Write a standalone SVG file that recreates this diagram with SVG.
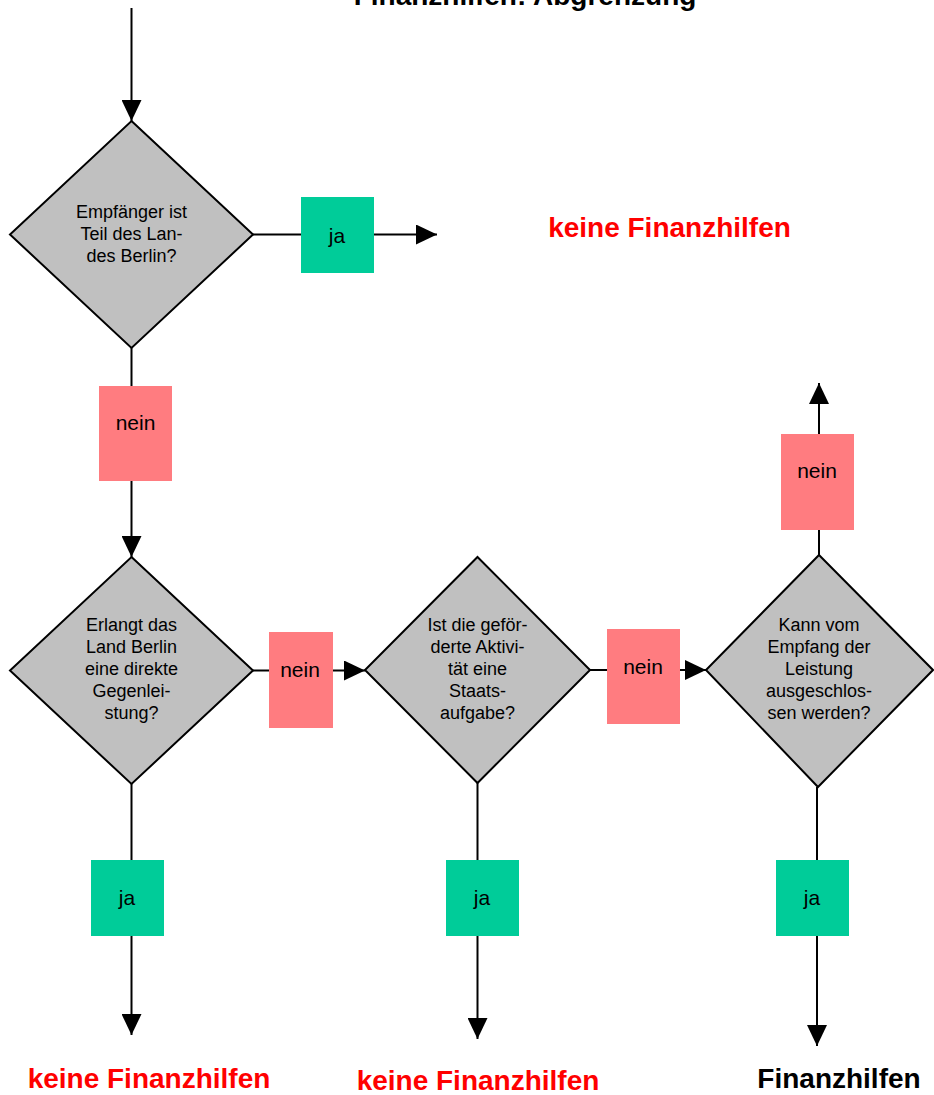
<svg xmlns="http://www.w3.org/2000/svg" width="934" height="1095" viewBox="0 0 934 1095">
<style>
  .dia { fill: #c0c0c0; stroke: #000; stroke-width: 2; stroke-linejoin: miter; }
  .ja { fill: #00cc99; }
  .nein { fill: #ff7c80; }
  .conn { stroke: #000; stroke-width: 2; fill: none; marker-end: url(#ah); }
  .q { font-family: "Liberation Sans", Arial, sans-serif; font-size: 18px; fill: #000; text-anchor: middle; }
  .lbl { font-family: "Liberation Sans", Arial, sans-serif; font-size: 21px; fill: #000; text-anchor: middle; }
  .res { font-family: "Liberation Sans", Arial, sans-serif; font-size: 28px; font-weight: bold; text-anchor: middle; }
  .red { fill: #ff0000; }
  .blk { fill: #000; }
</style>
<defs>
  <marker id="ah" viewBox="0 0 21 20" refX="21" refY="10" markerWidth="21" markerHeight="20" orient="auto" markerUnits="userSpaceOnUse">
    <path d="M0,0 L21,10 L0,20 z" fill="#000"/>
  </marker>
</defs>
<rect width="934" height="1095" fill="#fff"/>
<text id="title" class="res blk" x="525" y="5">Finanzhilfen: Abgrenzung</text>
<g id="connectors">
  <line class="conn" x1="131.5" y1="8" x2="131.5" y2="121"/>
  <line class="conn" x1="253" y1="234.5" x2="437" y2="234.5"/>
  <line class="conn" x1="131.5" y1="348" x2="131.5" y2="557"/>
  <line class="conn" x1="253" y1="670.5" x2="365" y2="670.5"/>
  <line class="conn" x1="590" y1="670" x2="706" y2="670"/>
  <line class="conn" x1="819" y1="555" x2="819" y2="383"/>
  <line class="conn" x1="131.5" y1="784" x2="131.5" y2="1035"/>
  <line class="conn" x1="477.5" y1="783" x2="477.5" y2="1039"/>
  <line class="conn" x1="817" y1="787" x2="817" y2="1046"/>
</g>
<g id="d1">
  <polygon class="dia" points="131.5,121 253,234.5 131.5,348 10,234.5"/>
  <text class="q" x="131.5" y="218">Empfänger ist</text>
  <text class="q" x="131.5" y="240">Teil des Lan-</text>
  <text class="q" x="131.5" y="262">des Berlin?</text>
</g>
<g id="d2">
  <polygon class="dia" points="131.5,557 253,670.5 131.5,784 10,670.5"/>
  <text class="q" x="131.5" y="631">Erlangt das</text>
  <text class="q" x="131.5" y="653">Land Berlin</text>
  <text class="q" x="131.5" y="675">eine direkte</text>
  <text class="q" x="131.5" y="697">Gegenlei-</text>
  <text class="q" x="131.5" y="719">stung?</text>
</g>
<g id="d3">
  <polygon class="dia" points="477.5,557 590,670 477.5,783 365,670"/>
  <text class="q" x="477.5" y="631">Ist die geför-</text>
  <text class="q" x="477.5" y="653">derte Aktivi-</text>
  <text class="q" x="477.5" y="675">tät eine</text>
  <text class="q" x="477.5" y="697">Staats-</text>
  <text class="q" x="477.5" y="719">aufgabe?</text>
</g>
<g id="d4">
  <polygon class="dia" points="819,555 933,670 818,787 706,670"/>
  <text class="q" x="819" y="631">Kann vom</text>
  <text class="q" x="819" y="653">Empfang der</text>
  <text class="q" x="819" y="675">Leistung</text>
  <text class="q" x="819" y="697">ausgeschlos-</text>
  <text class="q" x="819" y="719">sen werden?</text>
</g>
<g id="ja1">
  <rect class="ja" x="301" y="197" width="73" height="76"/>
  <text class="lbl" x="337" y="243">ja</text>
</g>
<g id="nein1">
  <rect class="nein" x="99" y="386" width="73" height="95"/>
  <text class="lbl" x="135.5" y="430">nein</text>
</g>
<g id="nein2">
  <rect class="nein" x="269" y="632" width="64" height="96"/>
  <text class="lbl" x="300" y="677">nein</text>
</g>
<g id="nein3">
  <rect class="nein" x="607" y="629" width="73" height="95"/>
  <text class="lbl" x="643" y="674">nein</text>
</g>
<g id="nein4">
  <rect class="nein" x="781" y="434" width="73" height="96"/>
  <text class="lbl" x="817" y="478">nein</text>
</g>
<g id="ja2">
  <rect class="ja" x="91" y="860" width="73" height="76"/>
  <text class="lbl" x="127" y="905">ja</text>
</g>
<g id="ja3">
  <rect class="ja" x="446" y="860" width="73" height="76"/>
  <text class="lbl" x="482" y="905">ja</text>
</g>
<g id="ja4">
  <rect class="ja" x="776" y="860" width="73" height="76"/>
  <text class="lbl" x="812" y="905">ja</text>
</g>
<g id="r1"><text class="res red" x="669.5" y="237">keine Finanzhilfen</text></g>
<g id="r2"><text class="res red" x="149" y="1088">keine Finanzhilfen</text></g>
<g id="r3"><text class="res red" x="478" y="1090">keine Finanzhilfen</text></g>
<g id="r4"><text class="res blk" x="839" y="1088">Finanzhilfen</text></g>
</svg>
